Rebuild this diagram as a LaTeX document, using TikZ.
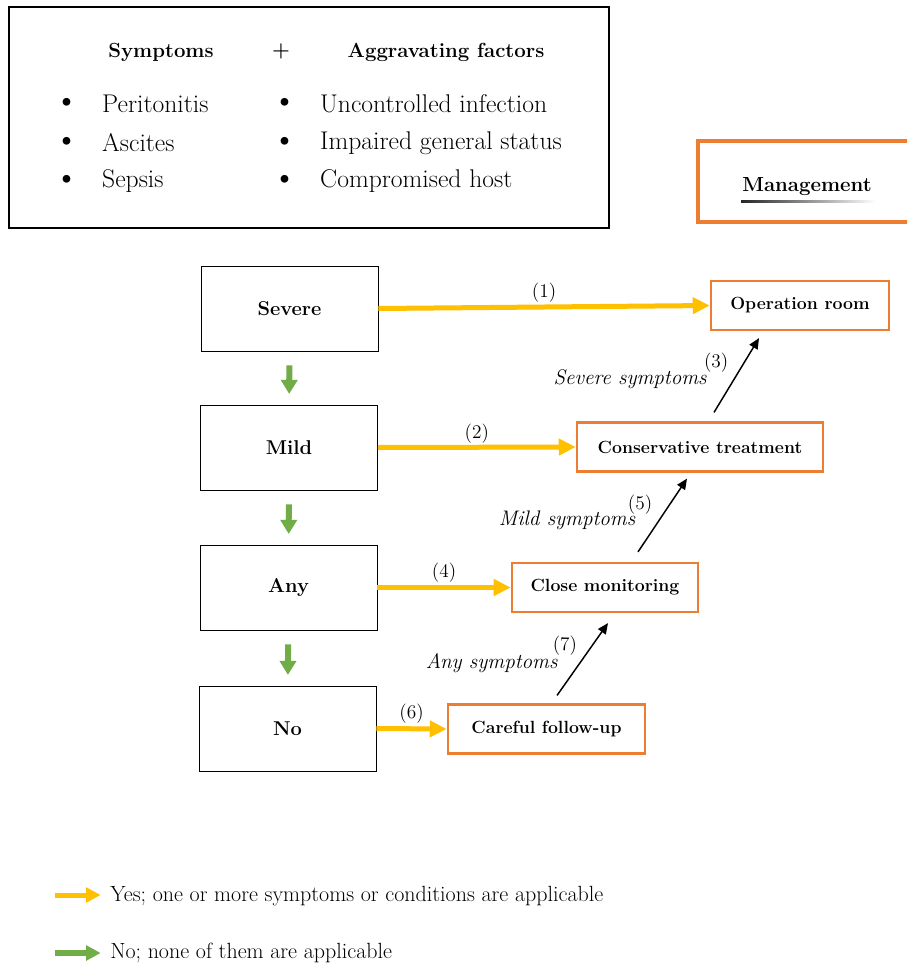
\documentclass[tikz,border=0pt]{standalone}
\usepackage{fontspec}
\usetikzlibrary{arrows.meta}
\definecolor{yesyellow}{HTML}{FFC000}
\definecolor{nogreen}{HTML}{70AD47}
\definecolor{mgmtorange}{HTML}{ED7D31}
\begin{document}
\begin{tikzpicture}[x=0.75pt, y=-0.75pt,
    level/.style={draw=black, line width=0.6pt, minimum width=132.75pt, minimum height=63.75pt,
      inner sep=0pt, font=\fontsize{15}{18}\selectfont\bfseries},
    action/.style={draw=mgmtorange, line width=1.9pt, minimum height=36.5pt, inner sep=0pt,
      font=\fontsize{13.25}{16}\selectfont\bfseries},
    yes/.style={-{Triangle[length=12.75pt, width=12pt]}, yesyellow, line width=3.75pt},
    no/.style={-{Triangle[length=10.5pt, width=12pt]}, nogreen, line width=4.5pt},
    up/.style={-{Triangle[length=8pt, width=7pt]}, black, line width=1.1pt},
    num/.style={text=black, font=\fontsize{14.5}{17}\selectfont},
    cond/.style={text=black, font=\fontsize{15.8}{18}\selectfont\itshape},
    item/.style={anchor=west, font=\fontsize{19.2}{22}\selectfont},
    dot/.style={font=\fontsize{26}{28}\selectfont},
    head/.style={font=\fontsize{15.3}{18}\selectfont\bfseries}]
    \clip (0,0) rectangle (907,967);
    \fill[white] (0,0) rectangle (907,967);
    % symptoms and aggravating factors
    \draw[line width=1.1pt] (9,7) rectangle (609,228);
    \node[head] (symp) at (161,52) {Symptoms};
    \node[head] (plus) at (281,51) {+};
    \node[head] (aggr) at (446,52) {Aggravating factors};
    \foreach \y/\a/\b [count=\i] in {104/Peritonitis/Uncontrolled infection,
        143/Ascites/Impaired general status, 181/Sepsis/Compromised host} {
      \node[dot] (bl\i) at (67,\y+1) {\textbullet};
      \node[item] (sy\i) at (97.5,\y) {\a};
      \node[dot] (br\i) at (285,\y+1) {\textbullet};
      \node[item] (ag\i) at (315.5,\y) {\b};
    }
    % management header
    \draw[mgmtorange, line width=3pt] (698,141) rectangle (915,222);
    \node[head] (mgmt) at (807,187) {Management};
    \shade[left color=black!85, right color=white] (741,200) rectangle (876,202);
    % severity levels
    \node[level] (severe) at (289.5,308.5) {Severe};
    \node[level] (mild)   at (289,447.5)   {Mild};
    \node[level] (any)    at (288.5,587.5) {Any};
    \node[level] (none)   at (287.5,728.5) {No};
    \draw[no, shorten <=10.5pt, shorten >=8pt] (severe) -- (mild);
    \draw[no, shorten <=10.5pt, shorten >=8pt] (mild) -- (any);
    \draw[no, shorten <=10.5pt, shorten >=8pt] (any) -- (none);
    % management boxes
    \node[action, minimum width=133.5pt]  (oproom) at (800,305.5) {Operation room};
    \node[action, minimum width=184.5pt]  (cons)   at (700,447)   {Conservative treatment};
    \node[action, minimum width=139.5pt]  (close)  at (605,587.5) {Close monitoring};
    \node[action, minimum width=147.75pt] (follow) at (546.5,729) {Careful follow-up};
    \draw[yes] (severe.east) -- (oproom.west) node[midway, above=-2pt, num] {(1)};
    \draw[yes] (mild.east) -- (cons.west) node[midway, above=-2pt, num] {(2)};
    \draw[yes] (any.east) -- (close.west) node[midway, above=-1pt, num] {(4)};
    \draw[yes] (none.east) -- (follow.west) node[midway, above=-1pt, num] {(6)};
    % escalation
    \draw[up] ([xshift=10.5pt, yshift=6.75pt]cons.north) -- ([xshift=-30.75pt, yshift=-5.25pt]oproom.south)
      node[pos=0.67, left=8pt, num] {(3)}
      node[pos=0.44, left=16.5pt, cond] {Severe symptoms};
    \draw[up] ([xshift=24.75pt, yshift=7.5pt]close.north) -- ([xshift=-9.75pt, yshift=-4.5pt]cons.south)
      node[pos=0.64, left=9pt, num] {(5)}
      node[pos=0.43, left=14pt, cond] {Mild symptoms};
    \draw[up] ([xshift=7.9pt, yshift=6pt]follow.north) -- ([xshift=2.25pt, yshift=-7.5pt]close.south)
      node[pos=0.69, left=7.5pt, num] {(7)}
      node[pos=0.45, left=13pt, cond] {Any symptoms};
    % legend
    \node[anchor=west, inner sep=0pt, font=\fontsize{16.5}{19}\selectfont] (yeslbl) at (110,896)
      {Yes; one or more symptoms or conditions are applicable};
    \node[anchor=west, inner sep=0pt, font=\fontsize{16.5}{19}\selectfont] (nolbl) at (110,953)
      {No; none of them are applicable};
    \coordinate (yesstart) at (55,895);
    \coordinate (nostart) at (55,953);
    \draw[yes, -{Triangle[length=11pt, width=11pt]}, shorten >=7pt] (yesstart) -- (yeslbl.west |- yesstart);
    \draw[no, -{Triangle[length=11pt, width=11pt]}, shorten >=7pt] (nostart) -- (nolbl.west |- nostart);
\end{tikzpicture}
\end{document}
